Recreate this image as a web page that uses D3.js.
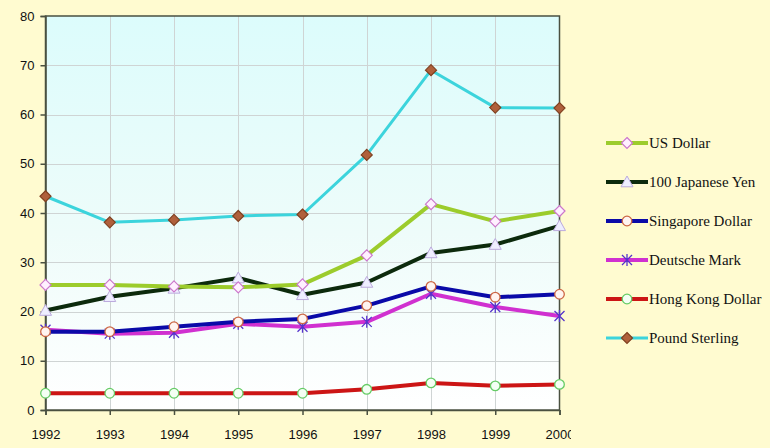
<!DOCTYPE html>
<html><head><meta charset="utf-8">
<script src="https://cdn.jsdelivr.net/npm/d3@7"></script>
<style>html,body{margin:0;padding:0;background:#fffbd0;}</style>
</head><body>
<svg id="chart" width="770" height="448"></svg>
<script>
const years = [1992,1993,1994,1995,1996,1997,1998,1999,2000];
const usDollar = [25.4,25.4,25.1,24.9,25.5,31.4,41.8,38.3,40.4];
const japaneseYen = [20.2,23.0,24.7,26.8,23.4,25.9,31.9,33.6,37.4];
const singaporeDollar = [15.9,15.9,16.9,17.9,18.5,21.2,25.1,22.9,23.5];
const deutscheMark = [16.3,15.5,15.7,17.5,16.9,17.9,23.6,20.9,19.1];
const hongKongDollar = [3.4,3.4,3.4,3.4,3.4,4.2,5.5,4.9,5.2];
const poundSterling = [43.4,38.1,38.6,39.4,39.7,51.8,69.0,61.4,61.3];
const yTicks = [0,10,20,30,40,50,60,70,80];
const seriesNames = ["US Dollar","100 Japanese Yen","Singapore Dollar","Deutsche Mark","Hong Kong Dollar","Pound Sterling"];

const series = [
  {name:seriesNames[0], values:usDollar, line:"#9ccc2c", width:4, marker:"diamond", fill:"#fff0ff", stroke:"#cc77cc"},
  {name:seriesNames[1], values:japaneseYen, line:"#0c2a0c", width:4, marker:"triangle", fill:"#eeeeff", stroke:"#bbaadd"},
  {name:seriesNames[2], values:singaporeDollar, line:"#0a0aa8", width:4, marker:"circle", fill:"#fff4f0", stroke:"#cc6644"},
  {name:seriesNames[3], values:deutscheMark, line:"#d030d0", width:4, marker:"star", fill:"none", stroke:"#5533cc"},
  {name:seriesNames[4], values:hongKongDollar, line:"#cc1515", width:4, marker:"circle", fill:"#f4fff4", stroke:"#66cc66"},
  {name:seriesNames[5], values:poundSterling, line:"#3cd4dc", width:3, marker:"diamond", fill:"#b0603c", stroke:"#804020"}
];

const svg = d3.select("#chart");
const L = 45.5, R = 559.5, T = 16, B = 410;
const x = d3.scalePoint().domain(years).range([L, R]);
const y = d3.scaleLinear().domain([0, 80]).range([B, T]);

const defs = svg.append("defs");
const grad = defs.append("linearGradient").attr("id","bg").attr("x1",0).attr("y1",0).attr("x2",0).attr("y2",1);
grad.append("stop").attr("offset","0%").attr("stop-color","#dcfcfc");
grad.append("stop").attr("offset","55%").attr("stop-color","#eefcfa");
grad.append("stop").attr("offset","100%").attr("stop-color","#ffffff");
defs.append("clipPath").attr("id","lblclip").append("rect").attr("x",0).attr("y",0).attr("width",571).attr("height",448);

svg.append("rect").attr("x",L).attr("y",T).attr("width",R-L).attr("height",B-T).attr("fill","url(#bg)");

// gridlines
const grid = svg.append("g");
grid.selectAll("line.h").data(yTicks.slice(1,-1)).join("line")
  .attr("x1",L).attr("x2",R).attr("y1",d=>Math.round(y(d))+0.5).attr("y2",d=>Math.round(y(d))+0.5)
  .attr("stroke","#cfd4d4").attr("stroke-width",1);
grid.selectAll("line.v").data(years.slice(1,-1)).join("line")
  .attr("y1",T).attr("y2",B).attr("x1",d=>Math.round(x(d))+0.5).attr("x2",d=>Math.round(x(d))+0.5)
  .attr("stroke","#cfd4d4").attr("stroke-width",1);

// border
svg.append("rect").attr("x",L).attr("y",T).attr("width",R-L).attr("height",B-T)
  .attr("fill","none").attr("stroke","#4a5040").attr("stroke-width",1.5);

// axes
const yAxis = d3.axisLeft(y).tickValues(yTicks).tickSize(5).tickPadding(6).tickFormat(d3.format("d"));
const gy = svg.append("g").attr("transform",`translate(${L},0)`).call(yAxis);
const xAxis = d3.axisBottom(x).tickSize(5).tickPadding(15).tickFormat(d3.format("d"));
const gx = svg.append("g").attr("transform",`translate(0,${B})`).call(xAxis);
[gy,gx].forEach(g=>{
  g.select(".domain").attr("stroke","#4a5040").attr("stroke-width",1.5);
  g.selectAll(".tick line").attr("stroke","#4a5040").attr("stroke-width",1.5);
  g.selectAll("text").attr("fill","#111").style("font-family","'Liberation Sans', Arial, sans-serif").style("font-size","13px");
});
gx.attr("clip-path","url(#lblclip)");

function drawMarker(g, type, cx, cy, fill, stroke){
  if(type==="diamond"){
    const s=5.5;
    g.append("path").attr("d",`M${cx},${cy-s}L${cx+s},${cy}L${cx},${cy+s}L${cx-s},${cy}Z`)
      .attr("fill",fill).attr("stroke",stroke).attr("stroke-width",1.2);
  } else if(type==="triangle"){
    const s=6;
    g.append("path").attr("d",`M${cx},${cy-s}L${cx+s},${cy+s*0.8}L${cx-s},${cy+s*0.8}Z`)
      .attr("fill",fill).attr("stroke",stroke).attr("stroke-width",1);
  } else if(type==="circle"){
    g.append("circle").attr("cx",cx).attr("cy",cy).attr("r",4.8)
      .attr("fill",fill).attr("stroke",stroke).attr("stroke-width",1.3);
  } else if(type==="star"){
    const s=5;
    g.append("path").attr("d",`M${cx-s},${cy-s}L${cx+s},${cy+s}M${cx-s},${cy+s}L${cx+s},${cy-s}M${cx},${cy-s-1}L${cx},${cy+s+1}`)
      .attr("fill","none").attr("stroke",stroke).attr("stroke-width",1.3);
  }
}

const line = d3.line().x((d,i)=>x(years[i])).y(d=>y(d));
const plot = svg.append("g");
series.slice().reverse().forEach(s=>{
  plot.append("path").datum(s.values).attr("d",line)
    .attr("fill","none").attr("stroke",s.line).attr("stroke-width",s.width).attr("stroke-linejoin","round");
});
series.slice().reverse().forEach(s=>{
  const g = plot.append("g");
  s.values.forEach((v,i)=>drawMarker(g, s.marker, x(years[i]), y(v), s.fill, s.stroke));
});

// legend
const legend = svg.append("g");
series.forEach((s,i)=>{
  const ly = 143 + i*39;
  const g = legend.append("g");
  g.append("line").attr("x1",606).attr("x2",648).attr("y1",ly).attr("y2",ly)
    .attr("stroke",s.line).attr("stroke-width",s.width);
  drawMarker(g, s.marker, 627, ly, s.fill, s.stroke);
  g.append("text").attr("x",649).attr("y",ly).attr("dy","0.35em")
    .style("font-family","'Liberation Serif','Times New Roman',serif").style("font-size","15px")
    .attr("fill","#111").text(s.name);
});
</script>
</body></html>
